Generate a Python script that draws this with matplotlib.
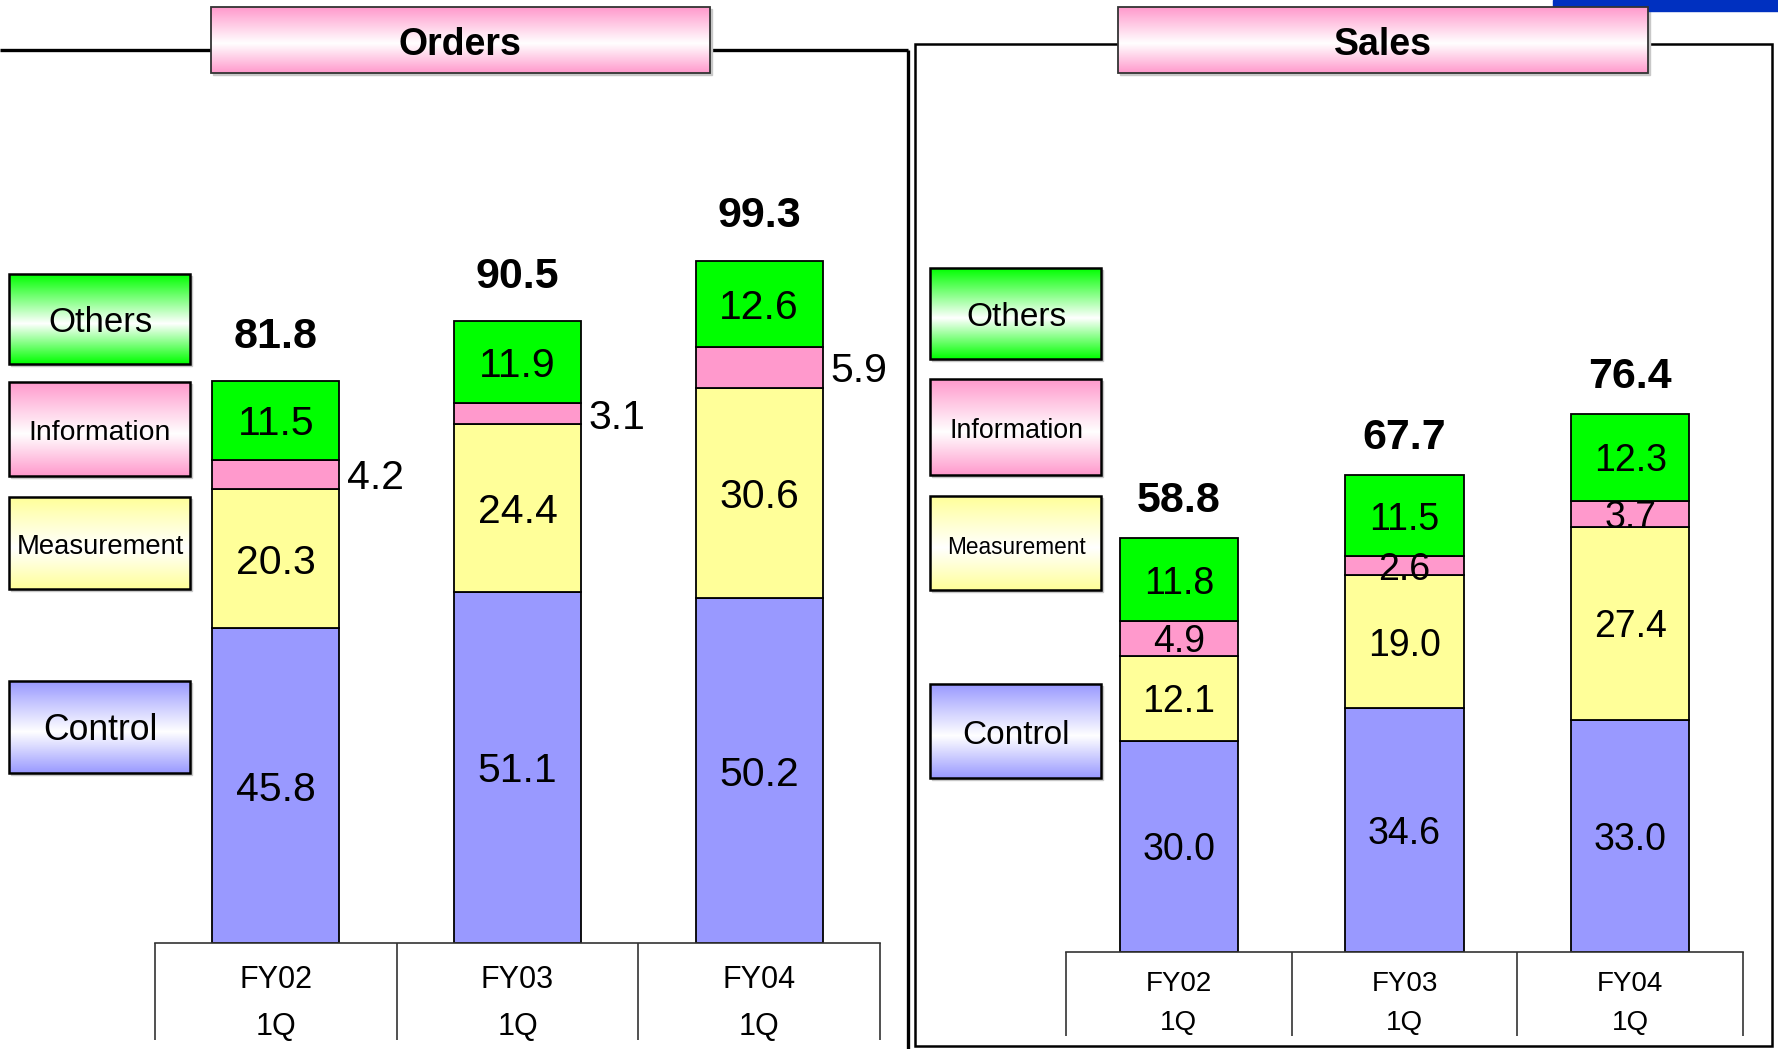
import numpy as np
import matplotlib
matplotlib.use("Agg")
import matplotlib.pyplot as plt
import matplotlib.colors as mcolors
from matplotlib.patches import Rectangle

plt.rcParams['font.family'] = ['Liberation Sans', 'DejaVu Sans']

# ---------------- data ----------------
categories = ["FY02\n1Q", "FY03\n1Q", "FY04\n1Q"]
segments = ["Control", "Measurement", "Information", "Others"]
seg_colors = ["#9999FF", "#FFFF99", "#FF99CC", "#00FF00"]

orders_control = [45.8, 51.1, 50.2]
orders_measurement = [20.3, 24.4, 30.6]
orders_information = [4.2, 3.1, 5.9]
orders_others = [11.5, 11.9, 12.6]
orders_total = [81.8, 90.5, 99.3]

sales_control = [30.0, 34.6, 33.0]
sales_measurement = [12.1, 19.0, 27.4]
sales_information = [4.9, 2.6, 3.7]
sales_others = [11.8, 11.5, 12.3]
sales_total = [58.8, 67.7, 76.4]

W, H = 1778, 1049
fig = plt.figure(figsize=(W / 100, H / 100), dpi=100)


def px_axes(x0, y_top, x1, y_base):
    return fig.add_axes([x0 / W, 1 - y_base / H, (x1 - x0) / W, (y_base - y_top) / H])


def draw_panel(ax, series, totals, top, width, seg_fs, tot_fs, tick_fs, lsp, pad,
               table_depth, info_outside, tot_off):
    ax.set_xlim(-0.5, 2.5)
    ax.set_ylim(0, top)
    ax.patch.set_visible(False)
    for s in ax.spines.values():
        s.set_visible(False)
    x = np.arange(len(categories))
    bottom = np.zeros(len(categories))
    for k, (vals, col) in enumerate(zip(series, seg_colors)):
        vals = np.array(vals)
        ax.bar(x, vals, width, bottom=bottom, color=col, edgecolor="black", linewidth=1.3, zorder=2)
        for i, v in enumerate(vals):
            if info_outside and k == 2:
                ax.text(x[i] + width / 2 + 0.03, bottom[i] + v / 2, f"{v:.1f}", ha="left",
                        va="center_baseline", fontsize=seg_fs, zorder=3)
            else:
                ax.text(x[i], bottom[i] + v / 2, f"{v:.1f}", ha="center", va="center_baseline",
                        fontsize=seg_fs, zorder=3)
        bottom = bottom + vals
    for i, t in enumerate(totals):
        ax.annotate(f"{t:.1f}", (x[i], bottom[i]), xytext=(0, tot_off), textcoords="offset points",
                    ha="center", va="baseline", fontsize=tot_fs, fontweight="bold")
    # table under bars
    ax.plot([-0.5, 2.5], [0, 0], color="#333333", lw=1.2, clip_on=False, zorder=3)
    ax.vlines([-0.5, 0.5, 1.5, 2.5], -table_depth, 0, color="#333333", lw=1.2, clip_on=False)
    ax.set_xticks(x)
    ax.set_xticklabels(categories, fontsize=tick_fs, linespacing=lsp)
    ax.tick_params(axis="x", length=0, pad=pad)
    ax.set_yticks([])


# Orders axes: x 155..880, baseline 943, 6.872 px/unit
o_scale = 6.872
ax1 = px_axes(155, 50, 880, 943)
draw_panel(ax1, [orders_control, orders_measurement, orders_information, orders_others],
           orders_total, (943 - 50) / o_scale, 0.526, 29.5, 31, 22, 1.72, 16,
           (1040 - 943) / o_scale, True, 24)

# Sales axes: x 1066..1743, baseline 952, 7.04 px/unit
s_scale = 7.04
ax2 = px_axes(1066, 44, 1743, 952)
draw_panel(ax2, [sales_control, sales_measurement, sales_information, sales_others],
           sales_total, (952 - 44) / s_scale, 0.523, 27, 31, 20, 1.62, 14,
           (1036 - 952) / s_scale, False, 19)

# ---------------- overlay decorations ----------------
ov = fig.add_axes([0, 0, 1, 1], zorder=5)
ov.patch.set_visible(False)
ov.axis("off")


def grad_box(x0, y0, x1, y1, color, mid=0.55, lw=1.8, ec="black"):
    c = np.array(mcolors.to_rgb(color))
    t = np.linspace(0, 1, 256)
    f = np.where(t < mid, t / mid, (1 - t) / (1 - mid))
    rows = c[None, :] * (1 - f[:, None]) + f[:, None]
    img = rows[:, None, :]
    ov.add_patch(Rectangle((x0 + 2, y0 + 2), x1 - x0, y1 - y0, color="#c8c8c8", zorder=1))
    ov.imshow(img, extent=(x0, x1, y1, y0), aspect="auto", origin="upper",
              interpolation="bilinear", zorder=2)
    ov.add_patch(Rectangle((x0, y0), x1 - x0, y1 - y0, fill=False, ec=ec, lw=lw, zorder=3))


# frames
ov.plot([0, 908], [50, 50], color="black", lw=2.4, zorder=1, solid_capstyle="butt")
ov.plot([908, 908], [50, 1049], color="black", lw=2.4, zorder=1, solid_capstyle="butt")
ov.add_patch(Rectangle((915, 44), 1772 - 915, 1046 - 44, fill=False, ec="black", lw=1.8, zorder=1))

# titles
grad_box(211, 7, 710, 73, "#FF99CC", lw=1.3, ec="#333333")
ov.text(460, 45, "Orders", ha="center", va="center", fontsize=27, fontweight="bold", zorder=4)
grad_box(1118, 7, 1648, 73, "#FF99CC", lw=1.3, ec="#333333")
ov.text(1383, 45, "Sales", ha="center", va="center", fontsize=27, fontweight="bold", zorder=4)

# logo strip
ov.add_patch(Rectangle((1553, 0), 225, 11, color="#0030c0", zorder=1))

# legends
leg_order = [3, 2, 1, 0]
o_boxes = [(274, 364), (382, 476), (497, 589), (681, 773)]
o_fs = [25, 20.4, 19.7, 25.6]
s_boxes = [(268, 359), (379, 475), (496, 590), (684, 778)]
s_fs = [24, 19.3, 16.3, 24]
for j, k in enumerate(leg_order):
    y0, y1 = o_boxes[j]
    grad_box(9, y0, 190, y1, seg_colors[k])
    ov.text(100, (y0 + y1) / 2 + 4, segments[k], ha="center", va="center", fontsize=o_fs[j], zorder=4)
    y0, y1 = s_boxes[j]
    grad_box(930, y0, 1101, y1, seg_colors[k])
    ov.text(1016, (y0 + y1) / 2 + 4, segments[k], ha="center", va="center", fontsize=s_fs[j], zorder=4)

ov.set_xlim(0, W)
ov.set_ylim(H, 0)

fig.savefig("out.png", dpi=100)
